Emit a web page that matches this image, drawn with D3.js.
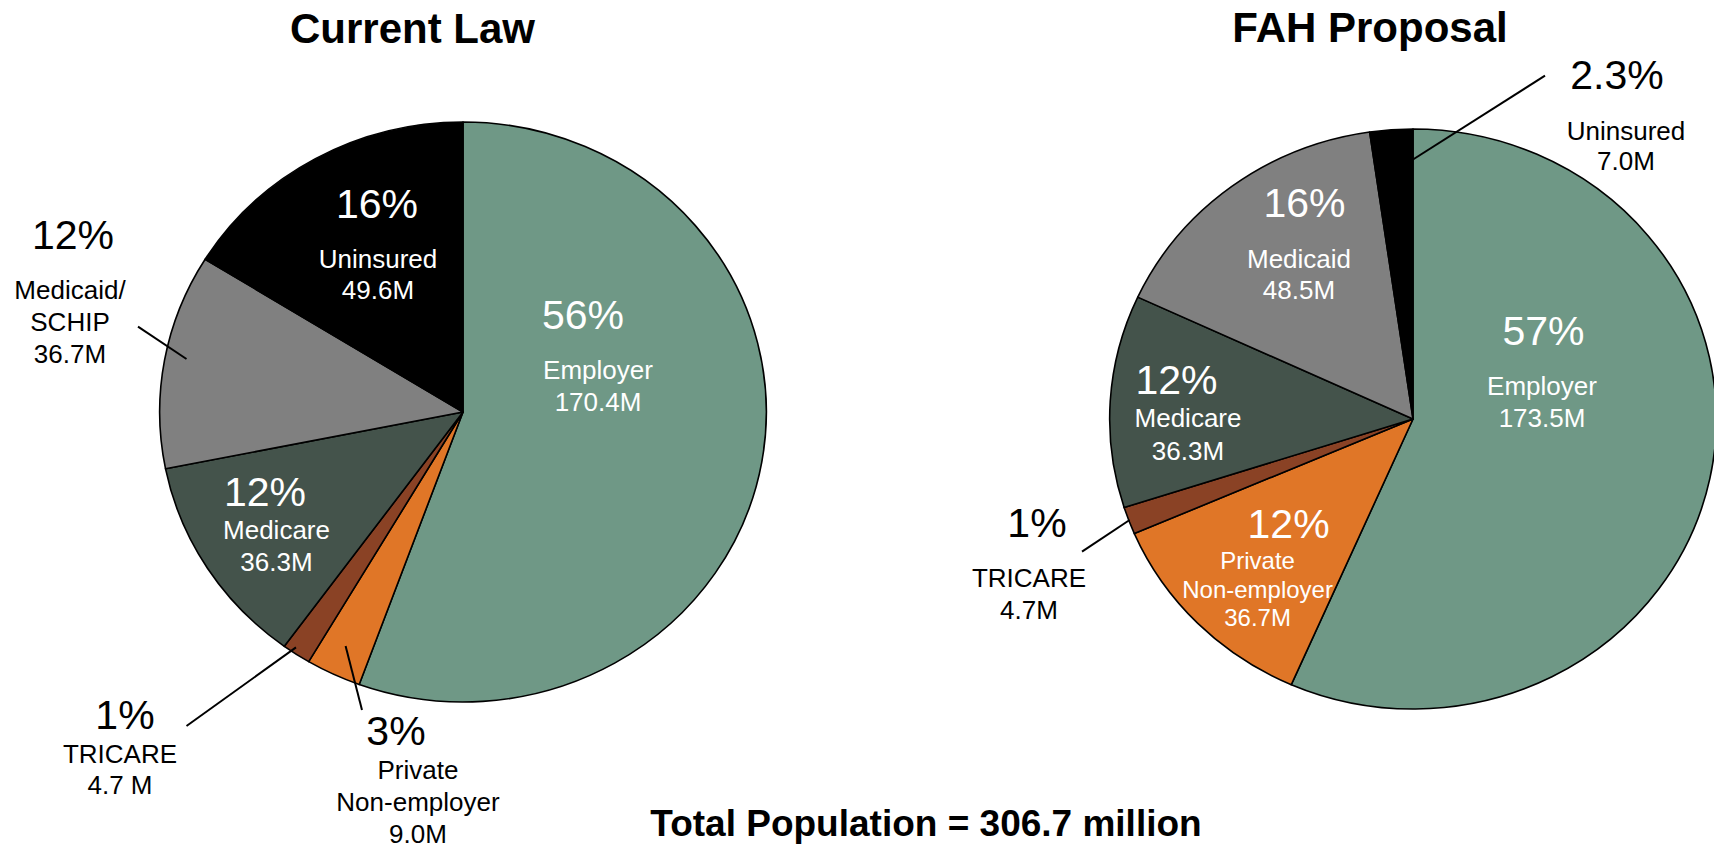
<!DOCTYPE html>
<html>
<head>
<meta charset="utf-8">
<script src="https://cdn.jsdelivr.net/npm/d3@7"></script>
<style>
  html, body { margin: 0; padding: 0; background: #fff; }
  svg { display: block; font-family: "Liberation Sans", Arial, sans-serif; }
</style>
</head>
<body>
<svg id="chart" width="1714" height="848"></svg>
<script>
// Coverage categories, in clockwise order from 12 o'clock
const categories = ["Employer", "Private Non-employer", "TRICARE", "Medicare", "Medicaid", "Uninsured"];

// Millions of people covered
const currentLawValues = [170.4, 9.0, 4.7, 36.3, 36.7, 49.6];
const fahValues = [173.5, 36.7, 4.7, 36.3, 48.5, 7.0];

// Share labels
const currentLawPct = ["56%", "3%", "1%", "12%", "12%", "16%"];
const fahPct = ["57%", "12%", "1%", "12%", "16%", "2.3%"];

// Name lines and amount labels
const currentLawNames = [["Employer"], ["Private", "Non-employer"], ["TRICARE"], ["Medicare"], ["Medicaid/", "SCHIP"], ["Uninsured"]];
const currentLawAmounts = ["170.4M", "9.0M", "4.7 M", "36.3M", "36.7M", "49.6M"];
const fahNames = [["Employer"], ["Private", "Non-employer"], ["TRICARE"], ["Medicare"], ["Medicaid"], ["Uninsured"]];
const fahAmounts = ["173.5M", "36.7M", "4.7M", "36.3M", "48.5M", "7.0M"];

const totalPopulation = "306.7";

const colors = d3.scaleOrdinal()
  .domain(categories)
  .range(["#6f9886", "#e07627", "#8a4225", "#44534b", "#808080", "#000000"]);

const svg = d3.select("#chart");

// Pie geometry: circles slightly widened horizontally
const R = 290;
const sx = 1.046;

// Label placement for each pie (x = centre of text block, y = baselines)
const leftLayout = [
  { pct: [583, 329], x: 598, y: 378.6, dy: 32.4, fill: "#fff" },
  { pct: [396, 745], x: 418, y: 778.8, dy: 32.2, fill: "#000", leader: [[345.6, 646], [362, 710]] },
  { pct: [125, 729], x: 120, y: 762.6, dy: 31.8, fill: "#000", leader: [[186.5, 726], [296, 647.4]] },
  { pct: [265, 505.7], x: 276.5, y: 539, dy: 31.8, fill: "#fff" },
  { pct: [73, 249], x: 70, y: 299, dy: 32, fill: "#000", leader: [[138, 326.7], [186.5, 359]] },
  { pct: [377, 218], x: 378, y: 267.7, dy: 31.5, fill: "#fff" }
];
const rightLayout = [
  { pct: [1543.5, 345], x: 1542, y: 394.8, dy: 32.2, fill: "#fff" },
  { pct: [1288.6, 538], x: 1257.6, y: 569, dy: 28.6, fill: "#fff", size: 24 },
  { pct: [1037, 537], x: 1029, y: 586.8, dy: 32.2, fill: "#000", leader: [[1082, 551.6], [1129.6, 520]] },
  { pct: [1176.5, 393.7], x: 1188, y: 427, dy: 32.7, fill: "#fff" },
  { pct: [1304.5, 217.4], x: 1299, y: 267.7, dy: 31.3, fill: "#fff" },
  { pct: [1617, 89], x: 1626, y: 139.5, dy: 30.5, fill: "#000", leader: [[1545, 75.7], [1413, 159.5]] }
];

const pie = d3.pie().sort(null).value(d => d);
const arc = d3.arc().innerRadius(0).outerRadius(R);

function drawPie(cfg) {
  const g = svg.append("g")
    .attr("transform", `translate(${cfg.cx},${cfg.cy}) scale(${sx},1)`);

  g.selectAll("path")
    .data(pie(cfg.values))
    .join("path")
    .attr("d", arc)
    .attr("fill", (d, i) => colors(categories[i]))
    .attr("stroke", "#000")
    .attr("stroke-width", 1.6)
    .attr("stroke-linejoin", "round")
    .attr("vector-effect", "non-scaling-stroke");

  // Leader lines for labels placed outside their slices
  cfg.layout.forEach(l => {
    if (!l.leader) return;
    svg.append("line")
      .attr("x1", l.leader[0][0]).attr("y1", l.leader[0][1])
      .attr("x2", l.leader[1][0]).attr("y2", l.leader[1][1])
      .attr("stroke", "#000")
      .attr("stroke-width", 2);
  });

  // Labels: percentage, then name lines, then amount
  cfg.layout.forEach((l, i) => {
    const lg = svg.append("g").attr("fill", l.fill).attr("text-anchor", "middle");
    lg.append("text")
      .attr("x", l.pct[0]).attr("y", l.pct[1])
      .attr("font-size", 41)
      .text(cfg.pct[i]);
    const lines = cfg.names[i].concat([cfg.amounts[i]]);
    lines.forEach((t, k) => {
      lg.append("text")
        .attr("x", l.x).attr("y", l.y + k * l.dy)
        .attr("font-size", l.size || 26)
        .text(t);
    });
  });

  svg.append("text")
    .attr("x", cfg.titleX).attr("y", cfg.titleY)
    .attr("text-anchor", "middle")
    .attr("font-size", 42)
    .attr("font-weight", "bold")
    .text(cfg.title);
}

drawPie({
  title: "Current Law", titleX: 412.5, titleY: 43,
  cx: 463, cy: 412,
  values: currentLawValues, pct: currentLawPct,
  names: currentLawNames, amounts: currentLawAmounts,
  layout: leftLayout
});

drawPie({
  title: "FAH Proposal", titleX: 1370, titleY: 42,
  cx: 1413, cy: 419,
  values: fahValues, pct: fahPct,
  names: fahNames, amounts: fahAmounts,
  layout: rightLayout
});

svg.append("text")
  .attr("x", 926).attr("y", 836)
  .attr("text-anchor", "middle")
  .attr("font-size", 37)
  .attr("font-weight", "bold")
  .text(`Total Population = ${totalPopulation} million`);
</script>
</body>
</html>
